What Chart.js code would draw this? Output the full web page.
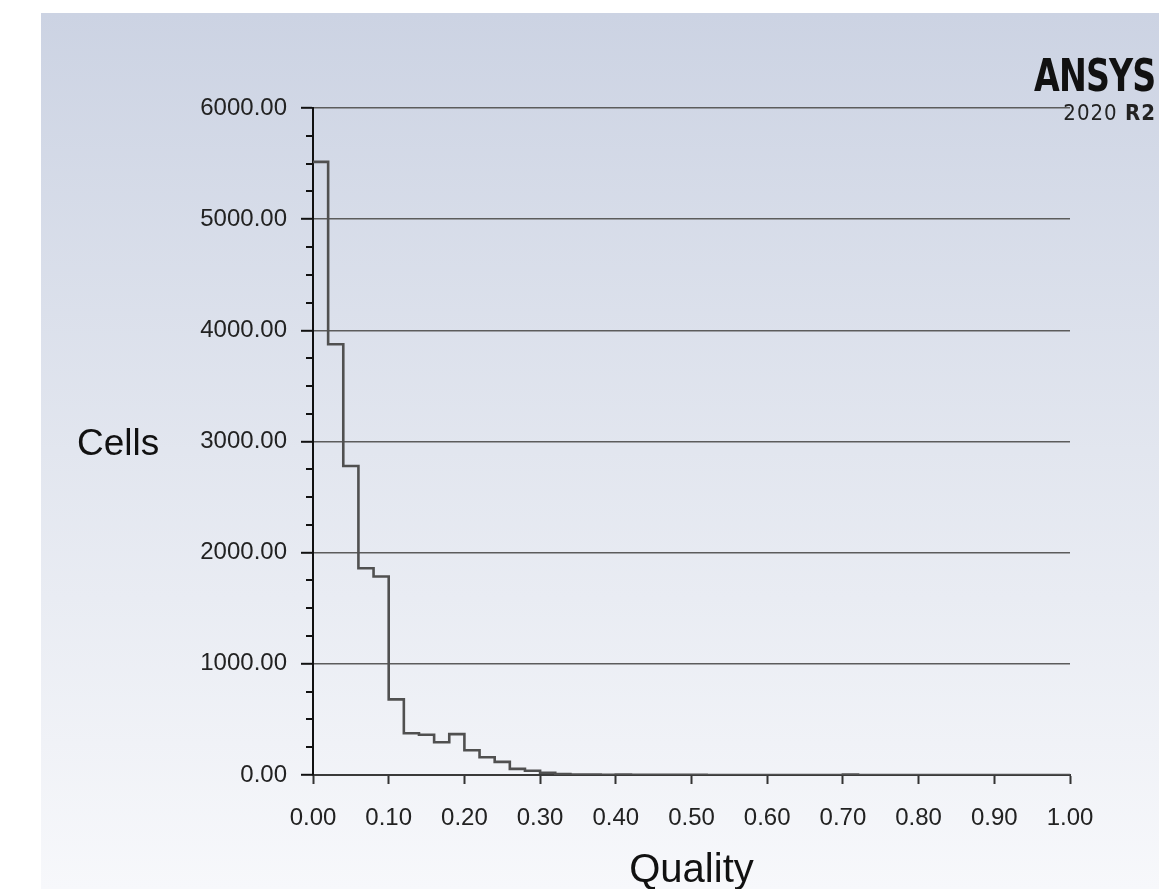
<!DOCTYPE html>
<html>
<head>
<meta charset="utf-8">
<title>Cells vs Quality</title>
<script src="https://cdn.jsdelivr.net/npm/chart.js@4.4.1/dist/chart.umd.min.js"></script>
<style>
  html, body { margin: 0; padding: 0; background: #ffffff; }
  body { width: 1159px; height: 889px; position: relative; overflow: hidden; }
  .panel {
    position: absolute; left: 41px; top: 13px; right: 0; bottom: 0;
    background: linear-gradient(to bottom, #ccd3e3 0%, #e2e6ef 50%, #f7f8fb 100%);
  }
  .chart-box { position: absolute; left: 0; top: 0; width: 1159px; height: 889px; }
  .logo { position: absolute; right: 4px; text-align: right; color: #111; transform-origin: right center; }
  .logo-name {
    top: 54px; font: bold 44px "DejaVu Sans Condensed", "DejaVu Sans", sans-serif;
    line-height: 44px; letter-spacing: -1px; transform: scaleX(0.84);
  }
  .logo-rel {
    top: 102px; font: 22px "DejaVu Sans Condensed", "DejaVu Sans", sans-serif; line-height: 22px;
    letter-spacing: 1px; color: #222; right: 3px;
  }
  .logo-rel b { font-weight: bold; }
</style>
</head>
<body>
<div class="panel"></div>
<div class="chart-box"><canvas id="qualityChart" width="1159" height="889"></canvas></div>
<div class="logo logo-name">ANSYS</div>
<div class="logo logo-rel">2020 <b>R2</b></div>

<script>
// Histogram bin edges (quality) and cell counts per bin
const binEdges = [
  0.00, 0.02, 0.04, 0.06, 0.08, 0.10, 0.12, 0.14, 0.16, 0.18,
  0.20, 0.22, 0.24, 0.26, 0.28, 0.30, 0.32, 0.34, 0.36, 0.38,
  0.40, 0.42, 0.44, 0.46, 0.48, 0.50, 0.52, 0.54, 0.56, 0.58,
  0.60, 0.62, 0.64, 0.66, 0.68, 0.70, 0.72, 0.74, 0.76, 0.78,
  0.80, 0.82, 0.84, 0.86, 0.88, 0.90, 0.92, 0.94, 0.96, 0.98,
  1.00
];
const cellCounts = [
  5515, 3875, 2780, 1860, 1785, 680, 375, 362, 294, 368,
  222, 160, 118, 55, 38, 20, 8, 5, 4, 1,
  4, 1, 1, 1, 1, 1, 0, 0, 0, 0,
  0, 0, 0, 0, 0, 3, 0, 0, 0, 0,
  0, 0, 0, 0, 0, 0, 0, 0, 0, 0
];

// Axis tick values
const xTicks = [0, 0.1, 0.2, 0.3, 0.4, 0.5, 0.6, 0.7, 0.8, 0.9, 1.0];
const yTicks = [0, 1000, 2000, 3000, 4000, 5000, 6000];

const xTitle = "Quality";
const yTitle = "Cells";

// step points: each bin value starts at its left edge, last point closes the final bin
const points = cellCounts.map((c, i) => ({ x: binEdges[i], y: c }));
points.push({ x: binEdges[binEdges.length - 1], y: 0 });

Chart.defaults.font.family = "'Liberation Sans', Arial, sans-serif";
Chart.defaults.font.size = 24;
Chart.defaults.color = "#222";

// Short minor ticks between the labelled y ticks, and the horizontal axis titles
const axisExtras = {
  id: "axisExtras",
  afterDraw(chart) {
    const c = chart.ctx;
    const area = chart.chartArea;
    const y = chart.scales.y;

    c.save();
    c.strokeStyle = "#111";
    c.lineWidth = 2;
    for (let i = 0; i < yTicks.length - 1; i++) {
      const step = (yTicks[i + 1] - yTicks[i]) / 4;
      for (let k = 1; k < 4; k++) {
        const py = Math.round(y.getPixelForValue(yTicks[i] + k * step));
        c.beginPath();
        c.moveTo(area.left - 7, py);
        c.lineTo(area.left, py);
        c.stroke();
      }
    }

    c.fillStyle = "#111";
    c.font = "37px 'Liberation Sans', Arial, sans-serif";
    c.textAlign = "left";
    c.textBaseline = "alphabetic";
    c.fillText(yTitle, area.left - 236, (area.top + area.bottom) / 2 + 13);

    c.font = "40px 'Liberation Sans', Arial, sans-serif";
    c.textAlign = "center";
    c.fillText(xTitle, (area.left + area.right) / 2, area.bottom + 107);
    c.restore();
  }
};

const ctx = document.getElementById("qualityChart").getContext("2d");

const qualityChart = new Chart(ctx, {
  type: "line",
  data: {
    datasets: [
      {
        label: yTitle,
        data: points,
        stepped: "before",
        borderColor: "#505050",
        borderWidth: 2.6,
        pointRadius: 0,
        fill: false,
        tension: 0
      }
    ]
  },
  options: {
    responsive: false,
    animation: false,
    devicePixelRatio: 1,
    layout: {
      padding: { left: 0, top: 108, right: 89, bottom: 0 }
    },
    plugins: {
      legend: { display: false },
      tooltip: { enabled: false }
    },
    scales: {
      x: {
        type: "linear",
        min: 0,
        max: 1,
        afterBuildTicks: (scale) => {
          scale.ticks = xTicks.map((v) => ({ value: v }));
        },
        afterFit: (scale) => {
          scale.height = 114;
        },
        ticks: {
          padding: 20,
          maxRotation: 0,
          autoSkip: false,
          color: "#222",
          callback: (v) => Number(v).toFixed(2)
        },
        grid: {
          drawOnChartArea: false,
          tickLength: 9,
          tickColor: "#333",
          tickWidth: 2
        },
        border: { color: "#3a3a3a", width: 2 }
      },
      y: {
        type: "linear",
        min: 0,
        max: 6000,
        afterBuildTicks: (scale) => {
          scale.ticks = yTicks.map((v) => ({ value: v }));
        },
        afterFit: (scale) => {
          scale.width = 313;
        },
        ticks: {
          padding: 14,
          autoSkip: false,
          color: "#222",
          callback: (v) => Number(v).toFixed(2)
        },
        grid: {
          color: "#5c5c5c",
          lineWidth: 1.6,
          tickLength: 12,
          tickColor: "#111",
          tickWidth: 2
        },
        border: { color: "#111", width: 2 }
      }
    }
  },
  plugins: [axisExtras]
});
</script>
</body>
</html>
